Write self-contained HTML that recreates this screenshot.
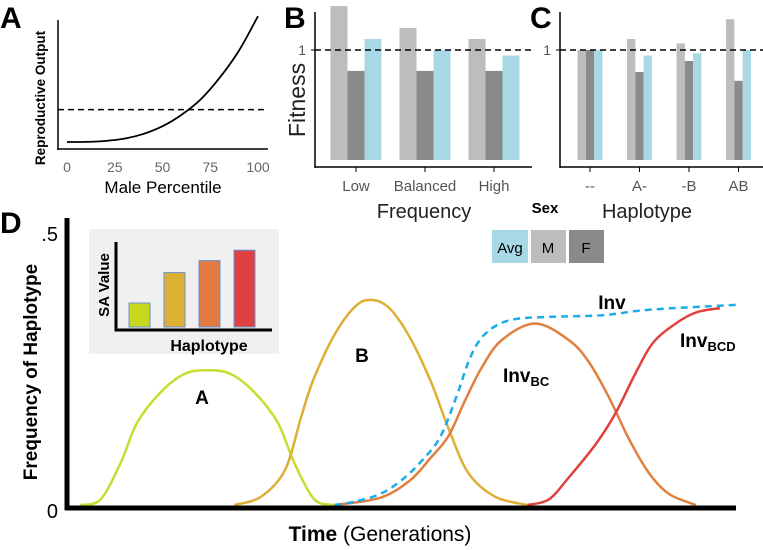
<!DOCTYPE html>
<html><head><meta charset="utf-8"><style>
body{margin:0;background:#fff}
svg{display:block;font-family:"Liberation Sans",sans-serif}
</style></head><body>
<svg id="fig" width="763" height="550" viewBox="0 0 763 550">
<g id="pA"></g>
<g id="pB"></g>
<g id="pC"></g>
<g id="legend">
 <text x="545" y="213" font-size="15" font-weight="bold" text-anchor="middle">Sex</text>
 <rect x="492" y="230" width="36" height="33" fill="#a8d8e6"/>
 <text x="510" y="253" font-size="15" text-anchor="middle">Avg</text>
 <rect x="531" y="230" width="35" height="33" fill="#bdbdbd"/>
 <text x="548" y="253" font-size="15" text-anchor="middle">M</text>
 <rect x="569" y="230" width="35" height="33" fill="#8a8a8a"/>
 <text x="586" y="253" font-size="15" text-anchor="middle">F</text>
</g>
<g id="pD"></g>
</svg>
<script>
// Panel A data
const aPercentile=[0,10,20,30,40,50,60,70,80,90,100];
const aOutput=[0.047,0.048,0.055,0.073,0.11,0.17,0.26,0.38,0.55,0.76,1.03];
const aTicks=[0,25,50,75,100];
const aThreshold=0.3;
// Panel B data
const bCats=["Low","Balanced","High"];
const bM=[1.40,1.20,1.10];
const bF=[0.81,0.81,0.81];
const bAvg=[1.10,1.00,0.95];
// Panel C data
const cCats=["--","A-","-B","AB"];
const cM=[1.00,1.10,1.06,1.28];
const cF=[1.00,0.80,0.90,0.72];
const cAvg=[1.00,0.95,0.97,1.00];
// Panel D inset
const insetVals=[0.30,0.68,0.83,0.96];
// Panel D curves (time 0-100, frequency)
const dA_t=[2,5,8,10.5,14,17.5,21,24.5,28,31.5,34,37,40];
const dA_f=[0,0.01,0.076,0.15,0.205,0.238,0.245,0.238,0.205,0.15,0.076,0.01,0];
const dB_t=[25,29,32.6,35,36.8,40,43,45.3,48,51,54.3,57,60,64,68.8];
const dB_f=[0,0.015,0.064,0.16,0.227,0.31,0.36,0.373,0.36,0.31,0.227,0.14,0.058,0.015,0];
const dBC_t=[40,46.8,51.3,54.3,57,59.5,62,65,70,75,78,81,84,87,90,94];
const dBC_f=[0,0.013,0.045,0.085,0.125,0.19,0.25,0.30,0.33,0.30,0.26,0.196,0.12,0.058,0.02,0];
const dBCD_t=[68.8,72,75,79,82,85,87.6,91,94,97.6];
const dBCD_f=[0,0.01,0.05,0.11,0.167,0.24,0.295,0.33,0.35,0.358];
const dInv_t=[40,43,46.8,50,53,55.8,58.3,60,61.7,64,67,72,80,87,100];
const dInv_f=[0,0.006,0.02,0.045,0.08,0.124,0.2,0.26,0.30,0.325,0.338,0.342,0.345,0.355,0.364];

const NS="http://www.w3.org/2000/svg";
function mk(parent,tag,attrs,txt){const e=document.createElementNS(NS,tag);for(const k in attrs)e.setAttribute(k,attrs[k]);if(txt!==undefined)e.textContent=txt;parent.appendChild(e);return e;}
function smooth(pts){let d="M"+pts[0][0]+","+pts[0][1];for(let i=0;i<pts.length-1;i++){const p0=pts[Math.max(0,i-1)],p1=pts[i],p2=pts[i+1],p3=pts[Math.min(pts.length-1,i+2)];const c1=[p1[0]+(p2[0]-p0[0])/6,p1[1]+(p2[1]-p0[1])/6],c2=[p2[0]-(p3[0]-p1[0])/6,p2[1]-(p3[1]-p1[1])/6];d+=" C"+c1[0]+","+c1[1]+" "+c2[0]+","+c2[1]+" "+p2[0]+","+p2[1];}return d;}

// ---- Panel A
(function(){
const g=document.getElementById('pA');
const x=v=>67+v*1.91, y=v=>148-v*128;
let t=mk(g,'text',{x:0,y:28,'font-size':30,'font-weight':'bold'},'A');

let l=mk(g,'line',{x1:58,y1:20,x2:58,y2:150,stroke:'#000','stroke-width':1.5});

l=mk(g,'line',{x1:57,y1:149,x2:268,y2:149,stroke:'#000','stroke-width':1.5});

aTicks.forEach(v=>{const tk=mk(g,'text',{x:x(v),y:172,'font-size':14,fill:'#666','text-anchor':'middle'},String(v));
});
l=mk(g,'line',{x1:58,y1:y(aThreshold),x2:268,y2:y(aThreshold),stroke:'#000','stroke-width':1.5,'stroke-dasharray':'6,4'});

const p=mk(g,'path',{d:smooth(aPercentile.map((v,i)=>[x(v),y(aOutput[i])])),fill:'none',stroke:'#000','stroke-width':1.8});

t=mk(g,'text',{x:163,y:193,'font-size':17,'text-anchor':'middle'},'Male Percentile');

t=mk(g,'text',{x:0,y:0,'font-size':13.5,'font-weight':'bold','text-anchor':'middle',transform:'translate(45,98) rotate(-90)'},'Reproductive Output');

})();

// ---- bar panel helper
function barPanel(gid,letter,lx,ax,axEnd,cats,M,F,Av,cx0,step,bw,xtitle,xtitleX,pfx){
const g=document.getElementById(gid);
const y=v=>160-v*110;
let t=mk(g,'text',{x:lx,y:28,'font-size':30,'font-weight':'bold'},letter);

let l=mk(g,'line',{x1:ax,y1:12,x2:ax,y2:168,stroke:'#000','stroke-width':1.5});

l=mk(g,'line',{x1:ax,y1:167,x2:axEnd,y2:167,stroke:'#000','stroke-width':1.5});

mk(g,'line',{x1:ax-4,y1:y(1),x2:ax,y2:y(1),stroke:'#000'});
t=mk(g,'text',{x:ax-9,y:y(1)+5,'font-size':14,fill:'#555','text-anchor':'end'},'1');

cats.forEach((c,i)=>{const cx=cx0+i*step;
 [[M[i],'#bdbdbd','m'],[F[i],'#8a8a8a','f'],[Av[i],'#a8d8e6','avg']].forEach((s,j)=>{
  const r=mk(g,'rect',{x:cx-1.5*bw+j*bw,y:y(s[0]),width:bw,height:y(0)-y(s[0]),fill:s[1]});
  });
 mk(g,'line',{x1:cx,y1:167,x2:cx,y2:172,stroke:'#000'});
 const tl=mk(g,'text',{x:cx,y:191,'font-size':15,fill:'#555','text-anchor':'middle'},c);
 
});
l=mk(g,'line',{x1:ax,y1:y(1),x2:axEnd,y2:y(1),stroke:'#000','stroke-width':1.5,'stroke-dasharray':'6,4'});

t=mk(g,'text',{x:xtitleX,y:218,'font-size':20,fill:'#222','text-anchor':'middle'},xtitle);

return g;}
const gB=barPanel('pB','B',284,315,532,bCats,bM,bF,bAvg,356,69,17,'Frequency',424,'b');
let ft=mk(gB,'text',{x:0,y:0,'font-size':23,'text-anchor':'middle',fill:'#222',transform:'translate(305,100) rotate(-90)'},'Fitness');

barPanel('pC','C',530,560,763,cCats,cM,cF,cAvg,590,49.5,8.3,'Haplotype',647,'c');

// ---- Panel D
(function(){
const g=document.getElementById('pD');
const x=t=>67+t*6.69, y=f=>505-f*550;
let t=mk(g,'text',{x:0,y:233,'font-size':30,'font-weight':'bold'},'D');

t=mk(g,'text',{x:58,y:241,'font-size':20,'text-anchor':'end'},'.5');

t=mk(g,'text',{x:58,y:518,'font-size':20,'text-anchor':'end'},'0');

t=mk(g,'text',{x:0,y:0,'font-size':19,'font-weight':'bold','text-anchor':'middle',transform:'translate(37,372) rotate(-90)'},'Frequency of Haplotype');

t=mk(g,'text',{x:380,y:541,'font-size':21,'text-anchor':'middle'});

mk(t,'tspan',{'font-weight':'bold'},'Time');mk(t,'tspan',{},' (Generations)');
// inset
let r=mk(g,'rect',{x:89,y:229,width:190,height:125,fill:'#f0f0f0'});

const iy=v=>327-v*80;
const icol=['#c8d81e','#dcb032','#e07a42','#df4040'];
insetVals.forEach((v,i)=>{const b=mk(g,'rect',{x:129+i*35,y:iy(v),width:21,height:327-iy(v),fill:icol[i],stroke:'#6a8fd0','stroke-width':1});
});
mk(g,'polyline',{points:'116,242 116,330 272,330',fill:'none',stroke:'#000','stroke-width':3});
t=mk(g,'text',{x:0,y:0,'font-size':15,'font-weight':'bold','text-anchor':'middle',transform:'translate(109,285) rotate(-90)'},'SA Value');

t=mk(g,'text',{x:209,y:351,'font-size':16,'font-weight':'bold','text-anchor':'middle'},'Haplotype');

// curves
const series=[[dA_t,dA_f,'#c8dc30','curve-a',''],[dB_t,dB_f,'#dfae35','curve-b',''],[dBC_t,dBC_f,'#e0803f','curve-inv-bc',''],[dBCD_t,dBCD_f,'#e0403e','curve-inv-bcd',''],[dInv_t,dInv_f,'#1aaee8','curve-inv','7,5']];
series.forEach(s=>{const a={d:smooth(s[0].map((v,i)=>[x(v),y(s[1][i])])),fill:'none',stroke:s[2],'stroke-width':2.5};if(s[4])a['stroke-dasharray']=s[4];
const p=mk(g,'path',a);});
// axes
mk(g,'line',{x1:67,y1:218,x2:67,y2:510,stroke:'#000','stroke-width':5});
mk(g,'line',{x1:65,y1:508,x2:736,y2:508,stroke:'#000','stroke-width':5});
// labels
[['A',202,404,'label-a'],['B',362,362,'label-b'],['Inv',612,309,'label-inv']].forEach(a=>{
const tt=mk(g,'text',{x:a[1],y:a[2],'font-size':19,'font-weight':'bold','text-anchor':'middle'},a[0]);
});
t=mk(g,'text',{x:503,y:382,'font-size':19,'font-weight':'bold'},'Inv');
mk(t,'tspan',{'font-size':13,dy:4},'BC');

t=mk(g,'text',{x:680,y:347,'font-size':19,'font-weight':'bold'},'Inv');
mk(t,'tspan',{'font-size':13,dy:4},'BCD');

})();
</script>
</body></html>
